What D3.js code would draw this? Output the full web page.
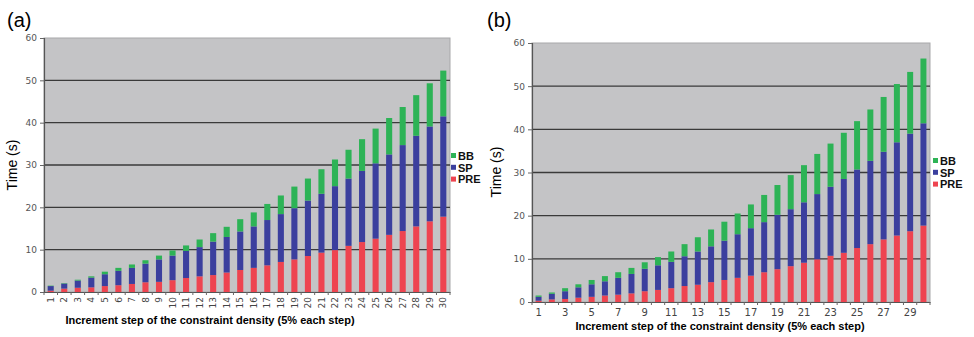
<!DOCTYPE html>
<html>
<head>
<meta charset="utf-8">
<script src="https://cdn.jsdelivr.net/npm/d3@7"></script>
<style>
  body { margin: 0; background: #fff; }
  svg text { font-family: "DejaVu Sans", Verdana, sans-serif; }
</style>
</head>
<body>
<svg id="chart" width="974" height="337"></svg>
<script>
// steps 1..30
const steps = d3.range(1, 31);
const seriesNames = ['PRE', 'SP', 'BB'];
const yTicks = [0, 10, 20, 30, 40, 50, 60];

// panel (a)
const preA = [0.3, 0.8, 1.0, 1.1, 1.4, 1.6, 1.9, 2.3, 2.4, 2.8, 3.3, 3.7, 4.0, 4.6, 5.2,
  5.7, 6.3, 7.1, 7.7, 8.5, 9.3, 9.9, 10.9, 11.8, 12.6, 13.5, 14.4, 15.5, 16.7, 17.8];
const spA = [1.1, 1.2, 1.7, 2.3, 2.8, 3.4, 3.8, 4.4, 5.3, 5.8, 6.4, 6.9, 7.9, 8.4, 9.1,
  9.8, 10.7, 11.3, 12.1, 13.1, 13.9, 15.1, 15.9, 16.8, 17.8, 19.0, 20.3, 21.4, 22.4, 23.7];
const bbA = [0.1, 0.1, 0.2, 0.3, 0.6, 0.7, 0.8, 0.8, 0.9, 1.2, 1.3, 1.8, 2.0, 2.4, 2.9,
  3.3, 3.8, 4.4, 5.1, 5.2, 5.8, 6.3, 6.8, 7.5, 8.2, 8.6, 9.0, 9.6, 10.2, 10.8];

// panel (b)
const preB = [0.3, 0.6, 0.7, 1.0, 1.2, 1.5, 1.7, 2.0, 2.5, 2.8, 3.2, 3.7, 4.0, 4.6, 5.1,
  5.6, 6.1, 6.9, 7.6, 8.3, 9.1, 9.9, 10.7, 11.4, 12.5, 13.4, 14.5, 15.4, 16.4, 17.7];
const spB = [0.9, 1.3, 1.8, 2.4, 2.9, 3.3, 3.9, 4.5, 5.2, 5.7, 6.1, 6.9, 7.7, 8.3, 9.1,
  10.1, 11.0, 11.6, 12.6, 13.2, 14.0, 15.1, 16.0, 17.1, 18.2, 19.3, 20.3, 21.6, 22.6, 23.7];
const bbB = [0.3, 0.3, 0.7, 0.7, 1.0, 1.2, 1.3, 1.4, 1.5, 1.9, 2.4, 2.8, 3.3, 3.9, 4.4,
  4.8, 5.5, 6.3, 6.9, 7.9, 8.6, 9.3, 10.0, 10.7, 11.2, 11.9, 12.7, 13.5, 14.3, 15.0];

const color = d3.scaleOrdinal()
  .domain(seriesNames)
  .range(['#ee4450', '#3b3f9e', '#2db356']);

const svg = d3.select('#chart');

function drawPanel(p) {
  const rows = steps.map((s, i) => ({ step: s, PRE: p.pre[i], SP: p.sp[i], BB: p.bb[i] }));
  const stack = d3.stack().keys(seriesNames)(rows);

  const x = d3.scaleBand().domain(steps).range([p.left, p.right]).paddingInner(0.55).paddingOuter(0.27);
  const y = d3.scaleLinear().domain([0, 60]).range([p.bottom, p.top]);
  // category boundaries for the little x tick marks
  const edge = d3.scaleLinear().domain([0, steps.length]).range([p.left, p.right]);

  const g = svg.append('g');

  // plot background
  g.append('rect')
    .attr('x', p.left).attr('y', p.top)
    .attr('width', p.right - p.left).attr('height', p.bottom - p.top)
    .attr('fill', '#c4c4c6')
    .attr('stroke', '#a8a8aa').attr('stroke-width', 1);

  // gridlines
  g.append('g').selectAll('line')
    .data(yTicks.filter(t => t > 0 && t < 60))
    .join('line')
    .attr('x1', p.left).attr('x2', p.right)
    .attr('y1', d => y(d)).attr('y2', d => y(d))
    .attr('stroke', '#3a3a3a').attr('stroke-width', 1.4);

  // bars
  g.append('g').selectAll('g')
    .data(stack)
    .join('g')
    .attr('fill', d => color(d.key))
    .selectAll('rect')
    .data(d => d)
    .join('rect')
    .attr('x', d => x(d.data.step))
    .attr('width', x.bandwidth())
    .attr('y', d => y(d[1]))
    .attr('height', d => y(d[0]) - y(d[1]));

  // y axis
  const yAxis = g.append('g')
    .attr('transform', `translate(${p.left},0)`)
    .call(d3.axisLeft(y).tickValues(yTicks).tickSize(4).tickPadding(3));
  yAxis.select('.domain').attr('stroke', '#555').attr('stroke-width', 1.2);
  yAxis.selectAll('.tick line').attr('stroke', '#666');
  yAxis.selectAll('text').attr('font-size', 9).attr('fill', '#555')
    .style('font-family', '"DejaVu Sans", Verdana, sans-serif');

  // x axis
  const xAxis = g.append('g')
    .attr('transform', `translate(0,${p.bottom})`)
    .call(d3.axisBottom(x).tickSize(0).tickPadding(4)
      .tickFormat(d => (p.oddOnly && d % 2 === 0) ? '' : d));
  xAxis.select('.domain').attr('stroke', '#555').attr('stroke-width', 1.2);
  xAxis.selectAll('text').attr('font-size', p.oddOnly ? 10 : 9).attr('fill', '#444')
    .style('font-family', '"DejaVu Sans", Verdana, sans-serif');
  if (p.rotate) {
    xAxis.selectAll('.tick text')
      .attr('transform', 'rotate(-90)')
      .attr('text-anchor', 'end')
      .attr('x', -5).attr('y', 0).attr('dy', '0.35em');
  } else {
    xAxis.selectAll('.tick text').attr('dy', '0.95em');
  }

  g.append('g').selectAll('line')
    .data(d3.range(0, steps.length + 1))
    .join('line')
    .attr('x1', d => edge(d)).attr('x2', d => edge(d))
    .attr('y1', p.bottom).attr('y2', p.bottom + 3)
    .attr('stroke', '#666').attr('stroke-width', 1);

  // titles
  g.append('text')
    .attr('x', p.labelX).attr('y', 27)
    .attr('font-size', 20)
    .style('font-family', '"Liberation Sans", Arial, sans-serif')
    .text(p.label);

  g.append('text')
    .attr('transform', `translate(${p.yTitleX},${p.yTitleY}) rotate(-90)`)
    .attr('text-anchor', 'middle')
    .attr('font-size', 14)
    .style('font-family', '"Liberation Sans", Arial, sans-serif')
    .text('Time (s)');

  g.append('text')
    .attr('x', p.xTitleX).attr('y', p.xTitleY)
    .attr('text-anchor', 'middle')
    .attr('font-size', 11).attr('font-weight', 'bold')
    .style('font-family', '"Liberation Sans", Arial, sans-serif')
    .text('Increment step of the constraint density (5% each step)');

  // legend (BB on top)
  const leg = g.append('g')
    .attr('transform', `translate(${p.legX},${p.legY})`)
    .selectAll('g')
    .data(seriesNames.slice().reverse())
    .join('g')
    .attr('transform', (d, i) => `translate(0,${i * 11.8})`);
  leg.append('rect')
    .attr('x', 0).attr('y', -3).attr('width', 5).attr('height', 5)
    .attr('fill', d => color(d));
  leg.append('text')
    .attr('x', 7).attr('y', 0).attr('dy', '0.35em')
    .attr('font-size', 11).attr('font-weight', 'bold')
    .style('font-family', '"Liberation Sans", Arial, sans-serif')
    .attr('fill', '#111')
    .text(d => d);
}

drawPanel({
  pre: preA, sp: spA, bb: bbA,
  left: 44, right: 450, top: 38, bottom: 292,
  rotate: true, oddOnly: false,
  label: '(a)', labelX: 7,
  yTitleX: 17, yTitleY: 165,
  xTitleX: 210, xTitleY: 324,
  legX: 451, legY: 156
});

drawPanel({
  pre: preB, sp: spB, bb: bbB,
  left: 532, right: 930, top: 43, bottom: 302,
  rotate: false, oddOnly: true,
  label: '(b)', labelX: 487,
  yTitleX: 501, yTitleY: 172,
  xTitleX: 720, xTitleY: 330,
  legX: 933, legY: 161
});
</script>
</body>
</html>
